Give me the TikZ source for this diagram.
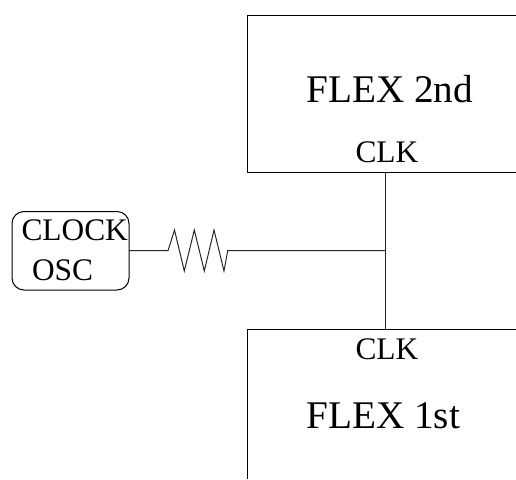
\documentclass[tikz,border=0pt]{standalone}
\usepackage{fontspec}
\setmainfont{Liberation Serif}
\tikzset{
  wire/.style={draw=black!85!white,line width=1pt},
  boxline/.style={draw=black,line width=1pt},
  lab/.style={inner sep=0pt,outer sep=0pt,anchor=base west,text=black},
  biglab/.style={lab,font=\fontsize{39.2}{41}\selectfont},
  smalllab/.style={lab,font=\fontsize{31.4}{33}\selectfont},
  oscbox/.style={draw=black,line width=1pt,rounded corners=12pt,minimum width=117pt,minimum height=78.5pt,inner sep=0pt,outer sep=0pt,anchor=north west}
}
\begin{document}
\begin{tikzpicture}[x=1pt,y=-1pt]
\useasboundingbox (0,0) rectangle (516,479);
% open-sided boxes
\coordinate (tr) at (516,15);
\coordinate (tl) at (247,15);
\coordinate (bl) at (247,172);
\coordinate (br) at (516,172);
\draw[boxline] (tr) -- (tl) -- (bl) -- (br);
\coordinate (lr) at (516,329);
\coordinate (ll) at (247,329);
\coordinate (lb) at (247,479);
\draw[boxline] (lr) -- (ll) -- (lb);
% oscillator
\node[oscbox] (osc) at (12,211.5) {};
% connectors
\coordinate (clktop) at (385,172);
\coordinate (clkbot) at (385,329);
\coordinate (junction) at (385,250.7);
\coordinate (rin) at (168,250.7);
\coordinate (rout) at (227.7,250.7);
\draw[wire] (clktop) -- (clkbot);
\draw[wire] (osc.east |- rin) -- (rin)
  -- (174.5,230) -- (184.3,271) -- (194.3,230) -- (204.3,271) -- (214,230) -- (224,271)
  -- (rout) -- (junction);
% labels
\node[biglab] (flex2) at (306.5,102.7) {FLEX 2nd};
\node[smalllab] (clk2) at (355.5,162) {CLK};
\node[smalllab] (clk1) at (355.5,359.3) {CLK};
\node[biglab] (flex1) at (306.5,428.3) {FLEX 1st};
\node[smalllab] (clock) at (21.5,240.7) {CLOCK};
\node[smalllab] (oscl) at (32,280) {OSC};
\end{tikzpicture}
\end{document}
